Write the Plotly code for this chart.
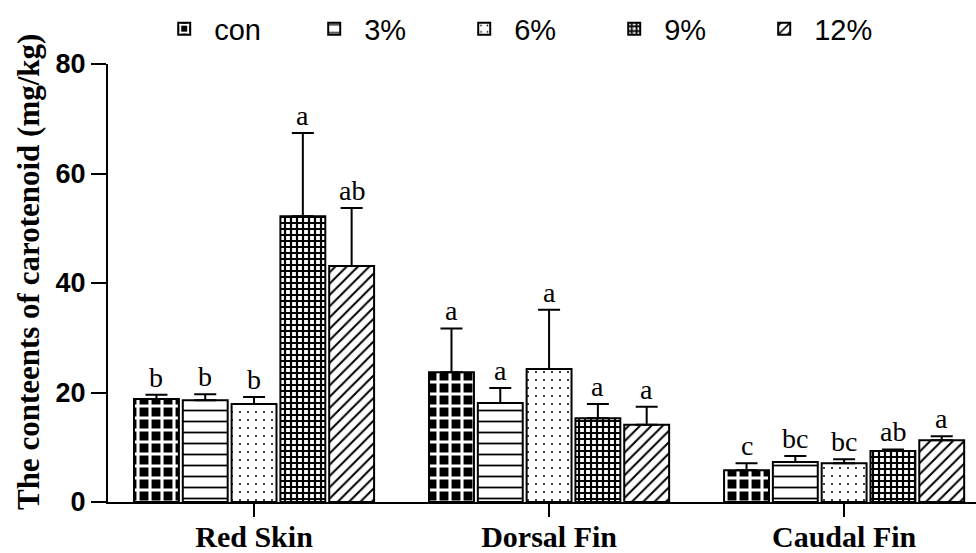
import plotly.graph_objects as go

# Tissue categories and dietary groups
tissues = ["Red Skin", "Dorsal Fin", "Caudal Fin"]
groups = ["con", "3%", "6%", "9%", "12%"]

# Mean carotenoid content (mg/kg) per group, ordered as tissues
mean_con = [18.8, 23.7, 5.8]
mean_3 = [18.6, 18.1, 7.3]
mean_6 = [17.9, 24.3, 7.1]
mean_9 = [52.2, 15.3, 9.3]
mean_12 = [43.1, 14.1, 11.3]

# Standard deviations (upper error bars)
sd_con = [0.8, 8.0, 1.3]
sd_3 = [1.1, 2.7, 1.1]
sd_6 = [1.3, 10.8, 0.7]
sd_9 = [15.2, 2.6, 0.3]
sd_12 = [10.6, 3.3, 0.7]

# Significance letters
sig_con = ["b", "a", "c"]
sig_3 = ["b", "a", "bc"]
sig_6 = ["b", "a", "bc"]
sig_9 = ["a", "a", "ab"]
sig_12 = ["ab", "a", "a"]

y_ticks = [0, 20, 40, 60, 80]

means = [mean_con, mean_3, mean_6, mean_9, mean_12]
sds = [sd_con, sd_3, sd_6, sd_9, sd_12]
sigs = [sig_con, sig_3, sig_6, sig_9, sig_12]

patterns = [
    dict(shape="+", fgcolor="white", bgcolor="black", size=12, solidity=0.45, fillmode="replace"),
    dict(shape="-", fgcolor="black", bgcolor="white", size=11, solidity=0.16, fillmode="replace"),
    dict(shape=".", fgcolor="black", bgcolor="white", size=8, solidity=0.05, fillmode="replace"),
    dict(shape="+", fgcolor="black", bgcolor="white", size=6, solidity=0.6, fillmode="replace"),
    dict(shape="/", fgcolor="black", bgcolor="white", size=8, solidity=0.25, fillmode="replace"),
]

SERIF = "Liberation Serif"
SANS = "Liberation Sans"

fig = go.Figure()
for name, m, s, pat in zip(groups, means, sds, patterns):
    fig.add_trace(go.Bar(
        name=name,
        x=tissues,
        y=m,
        marker=dict(color="white", pattern=pat, line=dict(color="black", width=2)),
        error_y=dict(type="data", symmetric=False, array=s,
                     arrayminus=[0] * len(s), color="black", thickness=2, width=11),
        hoverinfo="skip",
    ))

fig.update_layout(
    barmode="group",
    bargap=0.173,
    bargroupgap=0.08,
    width=976,
    height=553,
    margin=dict(l=108, r=0, t=64, b=51),
    plot_bgcolor="white",
    paper_bgcolor="white",
    showlegend=True,
    legend=dict(
        orientation="h",
        xref="container", yref="container",
        x=0.158, y=0.994, xanchor="left", yanchor="top",
        font=dict(family=SANS, size=29, color="black"),
        itemwidth=50,
        entrywidth=85, entrywidthmode="pixels",
        bgcolor="rgba(0,0,0,0)",
    ),
    xaxis=dict(
        range=[-0.495, 2.447],
        automargin=False,
        showline=True, linecolor="black", linewidth=2,
        ticks="outside", ticklen=13, tickwidth=2, tickcolor="black",
        tickfont=dict(family=SERIF, size=30, color="black"),
        ticklabelstandoff=-6,
        tickvals=tissues,
        ticktext=[f"<b>{t}</b>" for t in tissues],
        showgrid=False, zeroline=False,
    ),
    yaxis=dict(
        range=[0, 80],
        automargin=False,
        tickvals=y_ticks,
        ticktext=[f"<b>{v}</b>" for v in y_ticks],
        showline=True, linecolor="black", linewidth=2,
        ticks="outside", ticklen=15, tickwidth=2, tickcolor="black",
        tickfont=dict(family=SANS, size=27, color="black"),
        showgrid=False, zeroline=False,
    ),
)

# Y-axis title
fig.add_annotation(
    text="<b>The conteents of carotenoid (mg/kg)</b>",
    xref="paper", yref="paper", x=0, y=0.525, xshift=-80,
    xanchor="center", yanchor="middle", textangle=-90, showarrow=False,
    font=dict(family=SERIF, size=31, color="black"),
)

# Significance letters above each error bar
n = len(groups)
slot = (1 - 0.173) / n
for gi, (m, s, sg) in enumerate(zip(means, sds, sigs)):
    offset = (gi - (n - 1) / 2) * slot
    for ti in range(len(tissues)):
        fig.add_annotation(
            x=ti + offset, y=m[ti] + s[ti], xref="x", yref="y",
            text=sg[ti], showarrow=False, yanchor="bottom", yshift=0,
            font=dict(family=SERIF, size=28, color="black"),
        )

fig.write_html("out.html")
